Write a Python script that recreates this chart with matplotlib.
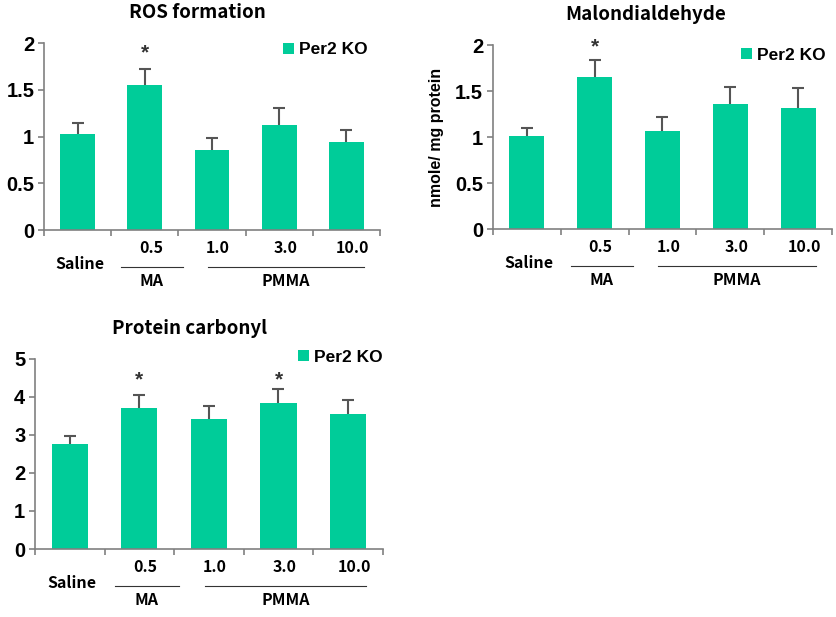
import matplotlib
matplotlib.use("Agg")
import matplotlib.pyplot as plt
from matplotlib.transforms import blended_transform_factory

# data
groups = ["Saline", "0.5", "1.0", "3.0", "10.0"]
ros_mean = [1.03, 1.55, 0.86, 1.12, 0.94]
ros_err = [0.11, 0.17, 0.12, 0.18, 0.13]
mda_mean = [1.01, 1.65, 1.07, 1.36, 1.32]
mda_err = [0.09, 0.19, 0.15, 0.19, 0.21]
pc_mean = [2.75, 3.71, 3.41, 3.84, 3.55]
pc_err = [0.22, 0.35, 0.35, 0.36, 0.37]

BAR = "#00cc99"
GREY = "#808080"
TICKFONT = "Liberation Sans"
LABFONT = ["Noto Sans CJK KR", "DejaVu Sans"]


def draw_panel(fig, rect, means, errs, ymax, ystep, title, title_x, stars, star_y, leg_xy, ylabel=None):
    ax = fig.add_axes(rect)
    x = list(range(len(means)))
    tops = [m + e for m, e in zip(means, errs)]
    ax.bar(x, means, width=0.52, color=BAR, zorder=2)
    # upper error bars only: stem + cap
    ax.vlines(x, means, tops, color="#555555", lw=1.5, zorder=3)
    ax.plot(x, tops, ls="none", marker="_", ms=8, mew=1.5, color="#555555", zorder=3)
    ax.set_xlim(-0.5, len(means) - 0.5)
    ax.set_ylim(0, ymax)
    yt = [round(i * ystep, 2) for i in range(int(round(ymax / ystep)) + 1)]
    ax.set_yticks(yt)
    ax.set_yticklabels([("%g" % v) for v in yt], fontfamily=TICKFONT, fontweight="bold", fontsize=14.5)
    ax.set_xticks([i - 0.5 for i in range(len(means) + 1)])
    ax.set_xticklabels([])
    for s in ["top", "right"]:
        ax.spines[s].set_visible(False)
    for s in ["left", "bottom"]:
        ax.spines[s].set_color(GREY)
        ax.spines[s].set_linewidth(1.2)
    ax.tick_params(axis="both", direction="out", length=4, width=1.2, color=GREY, pad=3)

    ax.set_title(title, fontfamily=LABFONT, fontweight="bold", fontsize=13.5, pad=18, x=title_x)
    if ylabel:
        ax.set_ylabel(ylabel, fontfamily=TICKFONT, fontweight="bold", fontsize=11.5, labelpad=8)

    for i in stars:
        ax.text(i, star_y, "*", ha="center", va="center", fontsize=15, fontweight="bold",
                fontfamily=TICKFONT, color="#333333")

    # group labels under the x axis
    tr = blended_transform_factory(ax.transData, ax.transAxes)
    hpx = fig.get_figheight() * fig.dpi * rect[3]
    for i, g in enumerate(groups):
        off = 34 if g == "Saline" else 18
        ax.text(i + (0.03 if g == "Saline" else 0.09), -off / hpx, g, transform=tr, ha="center",
                va="center", fontfamily=LABFONT, fontweight="bold", fontsize=11.5)
    ax.plot([0.65, 1.57], [-37 / hpx] * 2, color="#333333", lw=0.8, transform=tr, clip_on=False)
    ax.plot([1.94, 4.26], [-37 / hpx] * 2, color="#333333", lw=0.8, transform=tr, clip_on=False)
    ax.text(1.1, -51 / hpx, "MA", transform=tr, ha="center", va="center",
            fontfamily=LABFONT, fontweight="bold", fontsize=11.5)
    ax.text(3.1, -51 / hpx, "PMMA", transform=tr, ha="center", va="center",
            fontfamily=LABFONT, fontweight="bold", fontsize=11.5)

    ax.bar([0], [0], color=BAR, label="Per2 KO")
    ax.legend(loc="center left", bbox_to_anchor=leg_xy, frameon=False, handlelength=0.65,
              handleheight=0.65, handletextpad=0.3, borderpad=0, borderaxespad=0,
              prop={"family": TICKFONT, "weight": "bold", "size": 12.5})
    return ax


fig = plt.figure(figsize=(8.36, 6.17), dpi=100)
draw_panel(fig, [0.0526, 0.6272, 0.402, 0.303], ros_mean, ros_err, 2, 0.5,
           "ROS formation", 0.455, [1], 1.89, (0.711, 0.963))
draw_panel(fig, [0.5894, 0.6288, 0.406, 0.298], mda_mean, mda_err, 2, 0.5,
           "Malondialdehyde", 0.449, [1], 1.98, (0.731, 0.946), ylabel="nmole/ mg protein")
draw_panel(fig, [0.0419, 0.1102, 0.416, 0.308], pc_mean, pc_err, 5, 1,
           "Protein carbonyl", 0.445, [1, 3], 4.45, (0.756, 1.01))
fig.savefig("out.png", dpi=100)
